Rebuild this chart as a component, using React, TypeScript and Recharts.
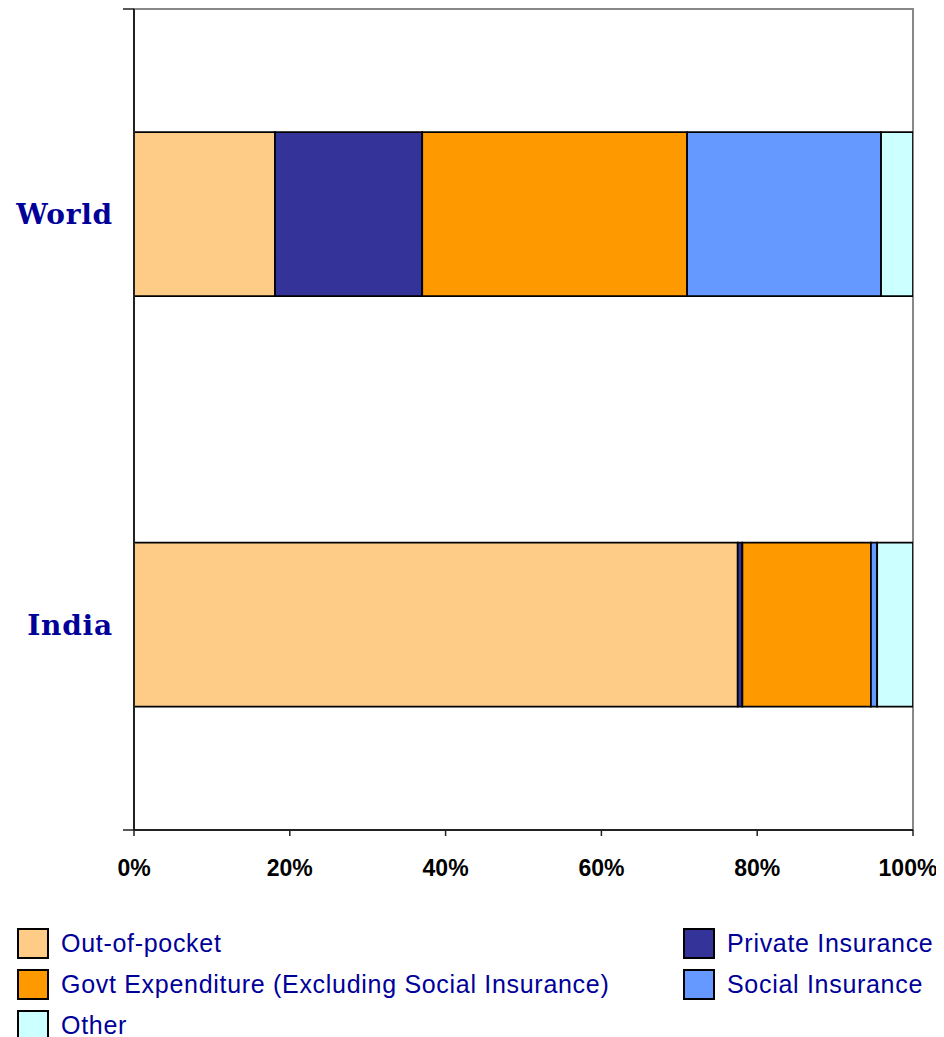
import React from 'react';
import { BarChart, Bar, XAxis, YAxis, Legend, ReferenceArea } from 'recharts';

const categories = ['World', 'India'];
const outOfPocket = [18.1, 77.5];
const privateInsurance = [18.9, 0.6];
const govtExpenditure = [34.0, 16.5];
const socialInsurance = [24.9, 0.8];
const other = [4.1, 4.6];
const xTicks = [0, 20, 40, 60, 80, 100];
const edgeTicks = [0, 1, 2];

const seriesKeys = ['oop', 'priv', 'govt', 'social', 'other'];
const seriesNames = [
  'Out-of-pocket',
  'Private Insurance',
  'Govt Expenditure (Excluding Social Insurance)',
  'Social Insurance',
  'Other',
];
const seriesColors = ['#FFCC88', '#333399', '#FF9900', '#6699FF', '#CCFFFF'];

const data = categories.map((c, i) => ({
  category: c,
  oop: outOfPocket[i],
  priv: privateInsurance[i],
  govt: govtExpenditure[i],
  social: socialInsurance[i],
  other: other[i],
}));

const XTick = (props: any) => {
  const { x, y, payload } = props;
  const dx = payload.value === 100 ? -5 : 0;
  return (
    <text
      x={x + dx}
      y={y}
      dy="0.71em"
      textAnchor="middle"
      fontFamily="'Liberation Sans', Arial, sans-serif"
      fontWeight="bold"
      fontSize={23}
      fill="#000"
    >
      {`${payload.value}%`}
    </text>
  );
};

const renderLegend = (props: any) => {
  const payload = [...(props.payload || [])].sort(
    (a: any, b: any) => seriesNames.indexOf(a.value) - seriesNames.indexOf(b.value)
  );
  return (
    <div
      style={{
        display: 'grid',
        gridTemplateColumns: '666px auto',
        gridAutoRows: '41px',
        fontFamily: "'Liberation Sans', Arial, sans-serif",
        fontSize: 25,
        letterSpacing: '0.7px',
        color: '#000099',
      }}
    >
      {payload.map((entry: any, i: number) => (
        <div key={i} style={{ display: 'flex', alignItems: 'center', height: 41 }}>
          <div
            style={{
              width: 32,
              height: 31,
              boxSizing: 'border-box',
              border: '2px solid #000',
              background: entry.color,
              marginRight: 12,
            }}
          />
          <span style={{ whiteSpace: 'nowrap' }}>{entry.value}</span>
        </div>
      ))}
    </div>
  );
};

export default function App() {
  return (
    <BarChart
      width={928}
      height={1029}
      data={data}
      layout="vertical"
      barCategoryGap="30%"
      margin={{ top: 1, right: 23, bottom: 177, left: 0 }}
    >
      <XAxis
        type="number"
        domain={[0, 100]}
        ticks={xTicks}
        allowDataOverflow
        tickSize={6}
        tickMargin={24}
        tick={<XTick />}
        axisLine={{ stroke: '#222', strokeWidth: 2 }}
        tickLine={{ stroke: '#222', strokeWidth: 1.5 }}
      />
      <YAxis
        yAxisId="cat"
        type="category"
        dataKey="category"
        width={125}
        tickSize={0}
        tickMargin={20}
        axisLine={false}
        tickLine={false}
        tick={{
          fontFamily: "'DejaVu Serif', serif",
          fontWeight: 'bold',
          fontSize: 28,
          letterSpacing: 0.8,
          fill: '#000099',
        }}
      />
      <YAxis
        yAxisId="aedge"
        type="number"
        domain={[0, 2]}
        ticks={edgeTicks}
        interval={0}
        allowDataOverflow
        width={1}
        tickSize={11}
        tickFormatter={() => ''}
        axisLine={{ stroke: '#222', strokeWidth: 2 }}
        tickLine={{ stroke: '#222', strokeWidth: 1.5 }}
      />
      <ReferenceArea
        yAxisId="cat"
        x1={0}
        x2={100}
        fill="none"
        stroke="#888"
        strokeWidth={2}
        ifOverflow="visible"
      />
      {seriesKeys.map((k, i) => (
        <Bar
          key={k}
          yAxisId="cat"
          dataKey={k}
          name={seriesNames[i]}
          stackId="s"
          fill={seriesColors[i]}
          stroke="#000"
          strokeWidth={1.75}
          isAnimationActive={false}
        />
      ))}
      <Legend
        layout="vertical"
        align="center"
        verticalAlign="middle"
        wrapperStyle={{ left: 9, top: 915, width: 920 }}
        content={renderLegend}
      />
    </BarChart>
  );
}
